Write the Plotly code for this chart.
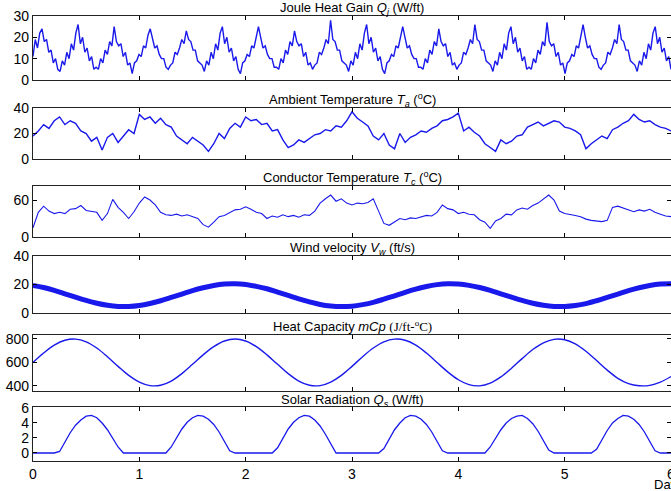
import numpy as np
import plotly.graph_objects as go

# ---------------- data ----------------
DAYS_TICKS = [0, 1, 2, 3, 4, 5, 6]

# Joule heat gain (W/ft), sampled uniformly over 0..6 days
joule = [
    11, 19, 15, 22, 24, 18, 19, 13, 14, 8, 10, 5,
    4, 9, 7, 13, 10, 17, 14, 22, 26, 17, 20, 13, 15, 9, 11, 5,
    6, 5, 10, 8, 14, 12, 18, 16, 25, 18, 16, 17, 11, 13, 7, 8,
    3, 8, 9, 12, 11, 16, 15, 21, 24, 20, 15, 16, 12, 10, 10, 6,
    5, 7, 8, 13, 12, 15, 19, 17, 23, 19, 18, 14, 14, 9, 8, 7,
    4, 9, 7, 13, 10, 17, 14, 22, 25, 17, 20, 13, 15, 9, 11, 5,
    3, 8, 9, 12, 11, 16, 15, 21, 25, 20, 15, 16, 12, 10, 10, 6,
    6, 5, 10, 8, 14, 12, 18, 16, 23, 18, 16, 17, 11, 13, 7, 8,
    5, 7, 8, 13, 12, 15, 19, 17, 28, 19, 18, 14, 14, 9, 8, 7,
    4, 9, 7, 13, 10, 17, 14, 22, 26, 17, 20, 13, 15, 9, 11, 5,
    3, 8, 9, 12, 11, 16, 15, 21, 25, 20, 15, 16, 12, 10, 10, 6,
    6, 5, 10, 8, 14, 12, 18, 16, 24, 18, 16, 17, 11, 13, 7, 8,
    5, 7, 8, 13, 12, 15, 19, 17, 26, 19, 18, 14, 14, 9, 8, 7,
    4, 9, 7, 13, 10, 17, 14, 22, 25, 17, 20, 13, 15, 9, 11, 5,
    6, 5, 10, 8, 14, 12, 18, 16, 27, 18, 16, 17, 11, 13, 7, 8,
    3, 8, 9, 12, 11, 16, 15, 21, 26, 20, 15, 16, 12, 10, 10, 6,
    5, 7, 8, 13, 12, 15, 19, 17, 26, 19, 18, 14, 14, 9, 8, 7,
    4, 9, 7, 13, 10, 17, 14, 22, 25, 17, 20, 13, 15, 9, 11, 5,
]

# Ambient temperature (deg C), every 0.05 day
ambient = [
    18, 22, 27, 24, 30, 33, 27, 30, 28, 22, 20, 14, 17, 7, 17, 20, 13, 18, 23, 20,
    35, 31, 33, 28, 32, 27, 25, 18, 15, 12, 17, 14, 11, 6, 12, 20, 16, 24, 28, 25,
    33, 30, 31, 27, 28, 22, 23, 15, 9, 11, 15, 13, 16, 19, 20, 23, 22, 26, 25, 30,
    37, 32, 29, 26, 18, 15, 20, 11, 8, 20, 13, 17, 19, 22, 21, 24, 26, 30, 31, 33,
    36, 22, 25, 21, 18, 12, 9, 6, 15, 12, 14, 18, 19, 25, 27, 29, 26, 28, 30, 29,
    25, 24, 22, 19, 8, 12, 15, 18, 16, 23, 25, 28, 30, 35, 31, 29, 30, 27, 25, 24,
    22,
]

# Conductor temperature (deg C), every 0.05 day
conductor = [
    15, 40, 50, 42, 38, 40, 38, 45, 46, 51, 43, 41, 40, 27, 38, 61, 48, 40, 30, 41,
    55, 65, 60, 52, 40, 36, 35, 37, 34, 36, 33, 30, 20, 16, 24, 33, 35, 40, 44, 45,
    49, 45, 40, 38, 30, 34, 32, 36, 33, 35, 32, 36, 35, 42, 55, 62, 68, 58, 62, 55,
    52, 55, 54, 56, 62, 42, 22, 19, 24, 30, 28, 31, 30, 33, 35, 34, 40, 52, 46, 44,
    38, 40, 37, 36, 28, 24, 14, 26, 30, 37, 36, 44, 47, 45, 51, 55, 62, 68, 60, 42,
    38, 37, 35, 33, 29, 27, 26, 25, 27, 48, 50, 47, 45, 41, 44, 42, 45, 40, 37, 34,
    33,
]

# Wind velocity (ft/s), every 0.1 day
wind = [
    19.4, 17.9, 15.9, 13.5, 11.1, 8.8, 6.8, 5.4, 4.6, 4.6,
    5.3, 6.7, 8.6, 10.9, 13.3, 15.7, 17.7, 19.3, 20.3, 20.5,
    20.0, 18.7, 17.0, 14.7, 12.3, 9.9, 7.8, 6.0, 4.9, 4.5,
    4.8, 5.9, 7.5, 9.7, 12.1, 14.5, 16.7, 18.6, 19.9, 20.5,
    20.3, 19.4, 17.9, 15.9, 13.5, 11.1, 8.8, 6.8, 5.4, 4.6,
    4.6, 5.3, 6.6, 8.6, 10.9, 13.3, 15.7, 17.7, 19.3, 20.3,
    20.5,
]

# Heat capacity mCp (J/ft-C), every 0.1 day
heatcap = [
    600, 680, 747, 789, 799, 776, 723, 649, 567, 490,
    433, 403, 406, 442, 505, 584, 665, 735, 783, 800,
    783, 735, 665, 584, 505, 442, 406, 403, 433, 490,
    567, 649, 723, 776, 799, 789, 747, 680, 600, 520,
    453, 411, 401, 424, 477, 551, 633, 710, 767, 797,
    794, 758, 695, 616, 535, 465, 420, 402, 405, 432,
    480,
]

# Solar radiation (W/ft), every 0.05 day
solar = [
    0, 0, 0, 0, 0, 0.2, 1.5, 2.7, 3.7, 4.4, 4.9, 5.0, 4.7, 4.0, 3.1, 2.0, 0.8, 0, 0, 0,
    0, 0, 0, 0, 0, 0, 0.8, 2.1, 3.2, 4.1, 4.7, 5.0, 4.9, 4.5, 3.8, 2.8, 1.6, 0.3, 0, 0,
    0, 0, 0, 0, 0, 0, 0.7, 2.0, 3.2, 4.1, 4.7, 5.0, 4.9, 4.4, 3.6, 2.5, 1.2, 0, 0, 0,
    0, 0, 0, 0, 0, 0, 0.6, 1.9, 3.1, 4.0, 4.7, 5.0, 4.9, 4.5, 3.8, 2.8, 1.6, 0.3, 0, 0,
    0, 0, 0, 0, 0, 0, 0.8, 2.0, 3.1, 4.0, 4.6, 4.9, 5.0, 4.6, 3.9, 2.9, 1.7, 0.4, 0, 0,
    0, 0, 0, 0, 0, 0, 0.5, 1.8, 3.0, 4.0, 4.6, 5.0, 4.9, 4.5, 3.8, 2.8, 1.6, 0.3, 0, 0,
    0,
]

titles = [
    "Joule Heat Gain <i>Q</i><sub><i>j</i></sub> (W/ft)",
    "Ambient Temperature <i>T</i><sub><i>a</i></sub> (<sup>o</sup>C)",
    "Conductor Temperature <i>T</i><sub><i>c</i></sub> (<sup>o</sup>C)",
    "Wind velocity <i>V</i><sub><i>w</i></sub> (ft/s)",
    "Heat Capacity <i>mCp</i> <span style='font-family:\"Liberation Serif\",serif'>(J/ft-<sup>o</sup>C)</span>",
    "Solar Radiation <i>Q</i><sub><i>s</i></sub> (W/ft)",
]
yranges = [[0, 30], [0, 40], [0, 82.7], [0, 40], [357, 834], [-1.07, 6.13]]
yticks = [[0, 10, 20, 30], [0, 20, 40], [0, 60], [0, 20, 40], [400, 600, 800], [0, 2, 4, 6]]

series = [joule, ambient, conductor, wind, heatcap, solar]

# ---------------- layout geometry (pixels) ----------------
W, H = 671, 491
X0 = 33
panel_px = [(16, 80), (108, 159), (186, 237), (256, 313), (335, 391), (407, 461)]
title_px = [8, 100, 178, 248, 326, 400]

BLUE = "rgb(25,25,235)"
widths = [1.4, 1.4, 1.1, 5.0, 1.4, 1.3]
shapes = ["linear", "linear", "linear", "spline", "spline", "linear"]

fig = go.Figure()
for i, vals in enumerate(series):
    n = len(vals)
    xs = np.linspace(0, 6, n)
    sfx = "" if i == 0 else str(i + 1)
    fig.add_trace(go.Scatter(
        x=xs, y=vals, mode="lines",
        line=dict(color=BLUE, width=widths[i], shape=shapes[i]),
        xaxis="x" + sfx, yaxis="y" + sfx, showlegend=False, hoverinfo="skip",
    ))

FAM = "Liberation Sans, Arial, sans-serif"
layout = dict(
    width=W, height=H, margin=dict(l=0, r=0, t=0, b=0),
    paper_bgcolor="white", plot_bgcolor="white", template="none",
    font=dict(family=FAM, size=14, color="black"), showlegend=False,
)
annotations = []
for i in range(6):
    top, bot = panel_px[i]
    sfx = "" if i == 0 else str(i + 1)
    xa = dict(
        domain=[X0 / W, 1.0], range=[0, 6], anchor="y" + sfx,
        tickvals=DAYS_TICKS, ticktext=[str(v) for v in DAYS_TICKS],
        ticks="inside", ticklen=4, tickcolor="black", tickwidth=1,
        showline=True, linecolor="#222", linewidth=1.2, mirror="ticks",
        showgrid=False, zeroline=False, showticklabels=(i == 5),
        tickfont=dict(family=FAM, size=14), ticklabeloverflow="allow",
        automargin=False,
    )
    ya = dict(
        domain=[1 - bot / H, 1 - top / H], range=yranges[i], anchor="x" + sfx,
        tickvals=yticks[i], ticks="inside", ticklen=4, tickcolor="black", tickwidth=1,
        showline=True, linecolor="#222", linewidth=1.2, mirror="ticks",
        showgrid=False, zeroline=False,
        tickfont=dict(family=FAM, size=14),
        automargin=False,
    )
    layout["xaxis" + sfx] = xa
    layout["yaxis" + sfx] = ya
    annotations.append(dict(
        text=titles[i], xref="paper", yref="paper",
        x=(X0 / W + 1.0) / 2, y=1 - title_px[i] / H,
        xanchor="center", yanchor="middle", showarrow=False,
        font=dict(family=FAM, size=13, color="black"),
    ))
annotations.append(dict(
    text="Day", xref="paper", yref="paper", x=652 / W, y=1 - 484 / H,
    xanchor="left", yanchor="middle", showarrow=False,
    font=dict(family=FAM, size=13, color="black"),
))
layout["annotations"] = annotations
fig.update_layout(**layout)
fig.write_html("out.html")
